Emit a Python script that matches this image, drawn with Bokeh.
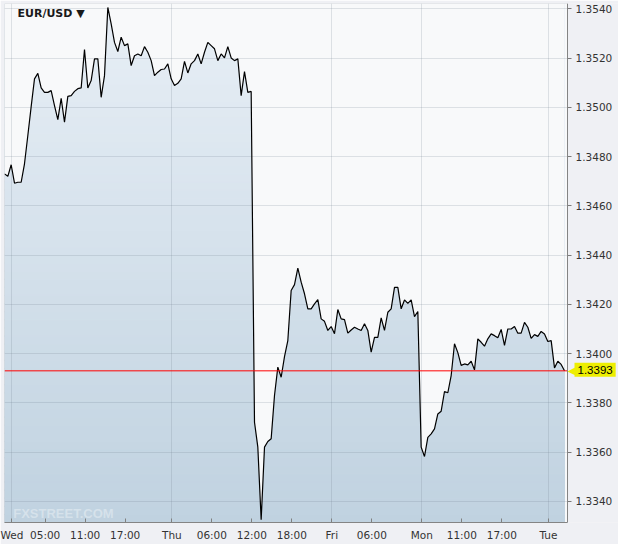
import numpy as np
from bokeh.plotting import figure
from bokeh.models import FixedTicker, Label, Range1d, PrintfTickFormatter, BoxAnnotation
from bokeh.embed import file_html
from bokeh.resources import INLINE

# ---- data -------------------------------------------------------------
pair_title = "EUR/USD \u25bc"
watermark = "FXSTREET.COM"

# half-hourly EUR/USD closes (chart hours from Wed 00:00, weekend gap removed)
t_first = -1.1
t_step = 0.5
prices = [
    1.34730, 1.34720, 1.34767, 1.34692, 1.34696, 1.34696, 1.34771, 1.34886, 1.35003, 1.35116,
    1.35138, 1.35079, 1.35061, 1.35061, 1.35068, 1.35007, 1.34950, 1.35037, 1.34940, 1.35045,
    1.35048, 1.35065, 1.35076, 1.35079, 1.35235, 1.35079, 1.35109, 1.35197, 1.35197, 1.35041,
    1.35129, 1.35406, 1.35339, 1.35264, 1.35227, 1.35285, 1.35251, 1.35258, 1.35170, 1.35210,
    1.35217, 1.35210, 1.35247, 1.35224, 1.35190, 1.35129, 1.35143, 1.35154, 1.35156, 1.35177,
    1.35116, 1.35089, 1.35098, 1.35116, 1.35187, 1.35140, 1.35177, 1.35190, 1.35217, 1.35177,
    1.35224, 1.35264, 1.35251, 1.35238, 1.35190, 1.35217, 1.35201, 1.35247, 1.35201, 1.35190,
    1.35197, 1.35048, 1.35145, 1.35061, 1.35065, 1.33721, 1.33620, 1.33325, 1.33620, 1.33643,
    1.33654, 1.33830, 1.33945, 1.33904, 1.33988, 1.34053, 1.34256, 1.34280, 1.34347, 1.34290,
    1.34243, 1.34182, 1.34182, 1.34202, 1.34219, 1.34141, 1.34131, 1.34094, 1.34110, 1.34081,
    1.34179, 1.34141, 1.34138, 1.34083, 1.34096, 1.34107, 1.34100, 1.34094, 1.34121, 1.34094,
    1.34006, 1.34066, 1.34066, 1.34145, 1.34094, 1.34168, 1.34182, 1.34269, 1.34269, 1.34182,
    1.34218, 1.34204, 1.34218, 1.34150, 1.34171, 1.33620, 1.33582, 1.33660, 1.33674, 1.33694,
    1.33755, 1.33766, 1.33846, 1.33841, 1.33911, 1.34040, 1.34004, 1.33952, 1.33958, 1.33954,
    1.33969, 1.33934, 1.34060, 1.34046, 1.34030, 1.34060, 1.34080, 1.34073, 1.34064, 1.34098,
    1.34033, 1.34100, 1.34100, 1.34110, 1.34083, 1.34083, 1.34127, 1.34107, 1.34062, 1.34077,
    1.34070, 1.34090, 1.34080, 1.34049, 1.34053, 1.33942, 1.33969, 1.33956, 1.33930,
]
last_price = 1.3393
last_label = "1.3393"

x_tick_pos = [0.0, 5.0, 11.0, 17.0, 24.0, 30.0, 36.0, 42.0, 48.0, 54.0, 61.5, 67.5, 73.5, 80.5]
x_tick_labels = ["Wed", "05:00", "11:00", "17:00", "Thu", "06:00", "12:00", "18:00",
                 "Fri", "06:00", "Mon", "11:00", "17:00", "Tue"]
day_pos = [0.0, 24.0, 48.0, 61.5, 80.5]
y_ticks = [1.3340, 1.3360, 1.3380, 1.3400, 1.3420, 1.3440, 1.3460, 1.3480, 1.3500, 1.3520, 1.3540]

# chart extents (x in chart hours, y in price)
X0, X_AXIS, X1 = -1.1, 83.35, 91.0
Y0, Y1 = 1.33314, 1.35422

times = [t_first + t_step * i for i in range(len(prices))]

PLOT_BG = "#f8f9fa"
PANEL_BG = "#eff0f4"

# ---- figure -----------------------------------------------------------
p = figure(width=618, height=544, x_range=Range1d(X0, X1), y_range=Range1d(Y0, Y1),
           y_axis_location="right", toolbar_location=None, output_backend="svg",
           min_border_left=4, min_border_top=3, min_border_right=0, min_border_bottom=22,
           background_fill_color=PANEL_BG, border_fill_color=PANEL_BG,
           outline_line_color=None)

# plot-area background
p.quad(left=X0, right=X_AXIS, bottom=Y0, top=Y1, fill_color=PLOT_BG, line_color=None,
       level="image")

# gradient fill under the curve: horizontal colour bands, then cover the above-curve area
n_bands = 64
edges = np.linspace(Y0, Y1, n_bands + 1)
c_bot = np.array([0xc0, 0xd2, 0xe0])
c_top = np.array([0xe8, 0xef, 0xf6])
band_cols = []
for i in range(n_bands):
    f = (i + 0.5) / n_bands
    c = (c_bot * (1 - f) + c_top * f).round().astype(int)
    band_cols.append("#%02x%02x%02x" % tuple(c))
p.quad(left=times[0], right=times[-1], bottom=edges[:-1], top=edges[1:],
       fill_color=band_cols, line_color=band_cols, line_width=1, level="image")
p.varea(x=times, y1=prices, y2=Y1 + 0.001, fill_color=PLOT_BG, level="image")

# price line
p.line(times, prices, line_color="#000000", line_width=1.2)

# last price line
p.segment(x0=X0, y0=last_price, x1=X_AXIS, y1=last_price, line_color="#ff0000", line_width=1)

# grids
p.xgrid.ticker = FixedTicker(ticks=day_pos)
p.ygrid.ticker = FixedTicker(ticks=y_ticks)
for g in (p.xgrid, p.ygrid):
    g.grid_line_color = "#6d7d8d"
    g.grid_line_alpha = 0.2

# axis panel area (right of the price axis) covers grid lines
p.add_layout(BoxAnnotation(left=X_AXIS, fill_color=PANEL_BG, fill_alpha=1.0,
                           line_color=None, level="glyph"))
# plot-area border (top/left)
p.add_layout(BoxAnnotation(left=X0, right=X_AXIS, bottom=Y0, top=Y1, fill_alpha=0.0,
                           line_color="#9a9a9a", line_width=1, level="overlay"))

# axes
p.xaxis.ticker = FixedTicker(ticks=x_tick_pos)
p.xaxis.major_label_overrides = {pos: lab for pos, lab in zip(x_tick_pos, x_tick_labels)}
p.xaxis.bounds = (X0, X_AXIS)
p.xaxis.major_tick_in = 4
p.xaxis.major_tick_out = 0
p.xaxis.minor_tick_line_color = None
p.xaxis.axis_line_color = "#808080"
p.xaxis.major_tick_line_color = "#808080"
p.xaxis.major_label_standoff = 6

p.yaxis.fixed_location = X_AXIS
p.yaxis.ticker = FixedTicker(ticks=y_ticks)
p.yaxis.formatter = PrintfTickFormatter(format="%.4f")
p.yaxis.major_tick_in = 0
p.yaxis.major_tick_out = 4
p.yaxis.minor_tick_line_color = None
p.yaxis.axis_line_color = "#7a7a7a"
p.yaxis.major_tick_line_color = "#7a7a7a"
p.yaxis.major_label_standoff = 4

for ax in (p.xaxis, p.yaxis):
    ax.major_label_text_font = "DejaVu Sans"
    ax.major_label_text_font_size = "10.5px"
    ax.major_label_text_color = "#333333"

# labels
p.add_layout(Label(x=X0, y=Y1, x_offset=13, y_offset=-3, text=pair_title,
                   text_font="DejaVu Sans", text_font_style="bold", text_font_size="11px",
                   text_color="#1a1a1a", text_baseline="top", text_align="left"))
p.add_layout(Label(x=X0, y=Y0, x_offset=8.7, y_offset=9, text=watermark,
                   text_font="Liberation Sans", text_font_style="bold", text_font_size="13px",
                   text_color="#ffffff", text_alpha=0.35, text_baseline="alphabetic"))

# last-price tag
p.add_layout(Label(x=X_AXIS, y=last_price, x_offset=9, y_offset=-2, text=last_label,
                   text_font="Liberation Sans", text_font_size="11.5px", text_alpha=0.0,
                   background_fill_color="#777777", background_fill_alpha=0.35, padding=3,
                   text_baseline="middle", text_align="left"))
p.add_layout(Label(x=X_AXIS, y=last_price, x_offset=8, y_offset=0, text="\u25c0",
                   text_font="DejaVu Sans", text_font_size="10px", text_color="#eeee00",
                   text_baseline="middle", text_align="right"))
p.add_layout(Label(x=X_AXIS, y=last_price, x_offset=7, y_offset=1, text=last_label,
                   text_font="Liberation Sans", text_font_size="11.5px", text_color="#000000",
                   background_fill_color="#eeee00", padding=3,
                   text_baseline="middle", text_align="left"))

open("out.html", "w").write(file_html(p, INLINE))
